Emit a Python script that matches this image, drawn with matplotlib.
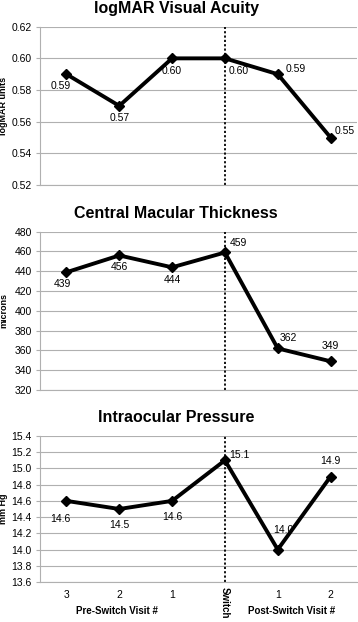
import matplotlib
matplotlib.use('Agg')
import matplotlib.pyplot as plt

plt.rcParams['font.family'] = ['Liberation Sans', 'DejaVu Sans']

visits = ["3", "2", "1", "Switch", "1", "2"]
va = [0.59, 0.57, 0.60, 0.60, 0.59, 0.55]
cmt = [439, 456, 444, 459, 362, 349]
iop = [14.6, 14.5, 14.6, 15.1, 14.0, 14.9]

va_labels = ["0.59", "0.57", "0.60", "0.60", "0.59", "0.55"]
cmt_labels = ["439", "456", "444", "459", "362", "349"]
iop_labels = ["14.6", "14.5", "14.6", "15.1", "14.0", "14.9"]

# label offsets in pixels (dx, dy)
va_off = [(-6, -12), (0, -12), (0, -13), (14, -13), (18, 5), (14, 7)]
cmt_off = [(-4, -12), (0, -12), (0, -13), (14, 9), (11, 10), (0, 15)]
iop_off = [(-6, -18), (0, -16), (0, -16), (14, 5), (6, 20), (0, 16)]

W, H = 358, 622
fig = plt.figure(figsize=(W / 100, H / 100), dpi=100)


def panel(top, bottom, title_y, title, values, labels, offs, ylim, yticks, fmt, ylabel):
    ax = fig.add_axes([40 / W, 1 - bottom / H, 317 / W, (bottom - top) / H])
    x = list(range(len(values)))
    ax.plot(x, values, color='black', lw=2.8, marker='D', ms=5.5, zorder=3)
    for xi, v, lab, (dx, dy) in zip(x, values, labels, offs):
        ax.annotate(lab, (xi, v), xytext=(dx, dy), textcoords='offset pixels',
                    ha='center', va='center', fontsize=7.5)
    ax.axvline(3, color='black', ls=(0, (1.2, 1.2)), lw=1.3, zorder=2)
    ax.set_xlim(-0.5, 5.5)
    ax.set_ylim(*ylim)
    ax.set_yticks(yticks)
    ax.set_yticklabels([fmt.format(t) for t in yticks], fontsize=7.5)
    ax.yaxis.grid(True, color='#b0b0b0', lw=0.8)
    ax.set_axisbelow(True)
    for s in ['top', 'right']:
        ax.spines[s].set_visible(False)
    ax.spines['left'].set_color('#b0b0b0')
    ax.spines['bottom'].set_color('#b0b0b0')
    ax.tick_params(axis='y', length=3, color='#b0b0b0', pad=3)
    ax.tick_params(axis='x', length=0)
    ax.set_ylabel(ylabel, fontsize=6.5, fontweight='bold')
    ax.yaxis.set_label_coords(-32 / 317, 0.5)
    fig.text(176 / W, 1 - title_y / H, title, fontsize=11.5, fontweight='bold',
             ha='center', va='center')
    return ax


ax1 = panel(26.7, 185, 9, "logMAR Visual Acuity", va, va_labels, va_off,
            (0.52, 0.62), [0.52, 0.54, 0.56, 0.58, 0.60, 0.62], "{:.2f}", "logMAR units")
ax1.set_xticks([])
ax2 = panel(231.7, 390, 213, "Central Macular Thickness", cmt, cmt_labels, cmt_off,
            (320, 480), list(range(320, 481, 20)), "{:d}", "microns")
ax2.set_xticks([])
ax3 = panel(436, 582, 417, "Intraocular Pressure", iop, iop_labels, iop_off,
            (13.6, 15.4), [13.6 + 0.2 * i for i in range(10)], "{:.1f}", "mm Hg")
ax3.set_xticks(range(len(visits)))
ax3.set_xticklabels([v if v != "Switch" else "" for v in visits], fontsize=7.5)
ax3.tick_params(axis='x', pad=6)
ax3.text(3, -0.035, "Switch", transform=ax3.get_xaxis_transform(), rotation=270,
         ha='center', va='top', fontsize=7, fontweight='bold')
ax3.text(0.96, -0.2, "Pre-Switch Visit #", transform=ax3.get_xaxis_transform(),
         ha='center', va='center', fontsize=7, fontweight='bold')
ax3.text(4.27, -0.2, "Post-Switch Visit #", transform=ax3.get_xaxis_transform(),
         ha='center', va='center', fontsize=7, fontweight='bold')

fig.savefig('out.png', dpi=100)
